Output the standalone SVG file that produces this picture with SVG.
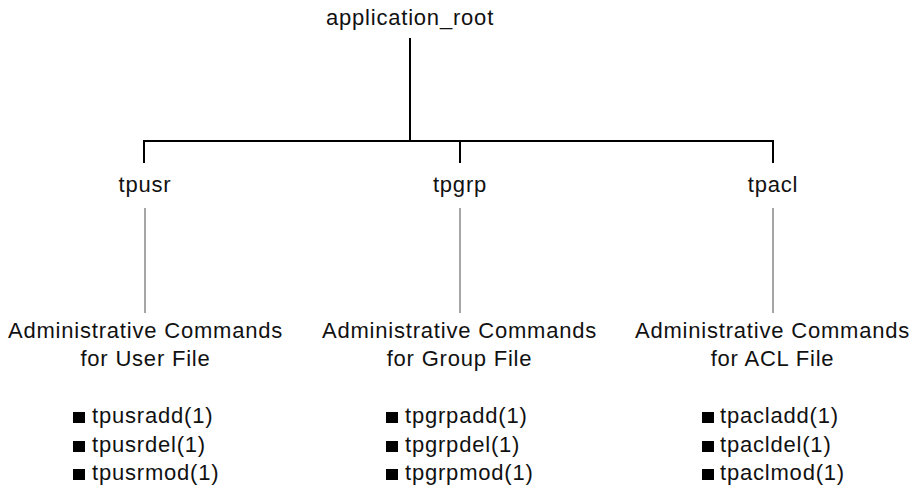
<svg xmlns="http://www.w3.org/2000/svg" width="919" height="487" viewBox="0 0 919 487">
<style>
text{font-family:"Liberation Sans",Arial,sans-serif;font-size:22px;letter-spacing:0.8px;fill:#111}
.c{text-anchor:middle}
.blk{stroke:#000;stroke-width:2;fill:none}
.gry{stroke:#888;stroke-width:1.5;fill:none}
.b{fill:#000}
</style>
<rect width="919" height="487" fill="#fff"/>
<g id="connectors">
<line class="blk" x1="410" y1="38" x2="410" y2="141"/>
<polyline class="blk" points="144,163 144,141 773,141 773,163"/>
<line class="blk" x1="460" y1="141" x2="460" y2="163"/>
<line class="gry" x1="145" y1="208" x2="145" y2="313"/>
<line class="gry" x1="460" y1="208" x2="460" y2="313"/>
<line class="gry" x1="773" y1="208" x2="773" y2="313"/>
</g>
<g id="root"><text class="c" x="410" y="25">application_root</text></g>
<g id="tpusr"><text class="c" x="145" y="192">tpusr</text></g>
<g id="tpgrp"><text class="c" x="460" y="192">tpgrp</text></g>
<g id="tpacl"><text class="c" x="773" y="192">tpacl</text></g>
<g id="user-cmds">
<text class="c" x="145.5" y="338">Administrative Commands</text>
<text class="c" x="145.5" y="366">for User File</text>
<rect class="b" x="73" y="412" width="12" height="11"/>
<text x="92" y="423">tpusradd(1)</text>
<rect class="b" x="73" y="441" width="12" height="11"/>
<text x="92" y="452">tpusrdel(1)</text>
<rect class="b" x="73" y="469" width="12" height="11"/>
<text x="92" y="480">tpusrmod(1)</text>
</g>
<g id="group-cmds">
<text class="c" x="459.5" y="338">Administrative Commands</text>
<text class="c" x="459.5" y="366">for Group File</text>
<rect class="b" x="386" y="412" width="12" height="11"/>
<text x="405" y="423">tpgrpadd(1)</text>
<rect class="b" x="386" y="441" width="12" height="11"/>
<text x="405" y="452">tpgrpdel(1)</text>
<rect class="b" x="386" y="469" width="12" height="11"/>
<text x="405" y="480">tpgrpmod(1)</text>
</g>
<g id="acl-cmds">
<text class="c" x="772.5" y="338">Administrative Commands</text>
<text class="c" x="772.5" y="366">for ACL File</text>
<rect class="b" x="702" y="412" width="12" height="11"/>
<text x="720" y="423">tpacladd(1)</text>
<rect class="b" x="702" y="441" width="12" height="11"/>
<text x="720" y="452">tpacldel(1)</text>
<rect class="b" x="702" y="469" width="12" height="11"/>
<text x="720" y="480">tpaclmod(1)</text>
</g>
</svg>
